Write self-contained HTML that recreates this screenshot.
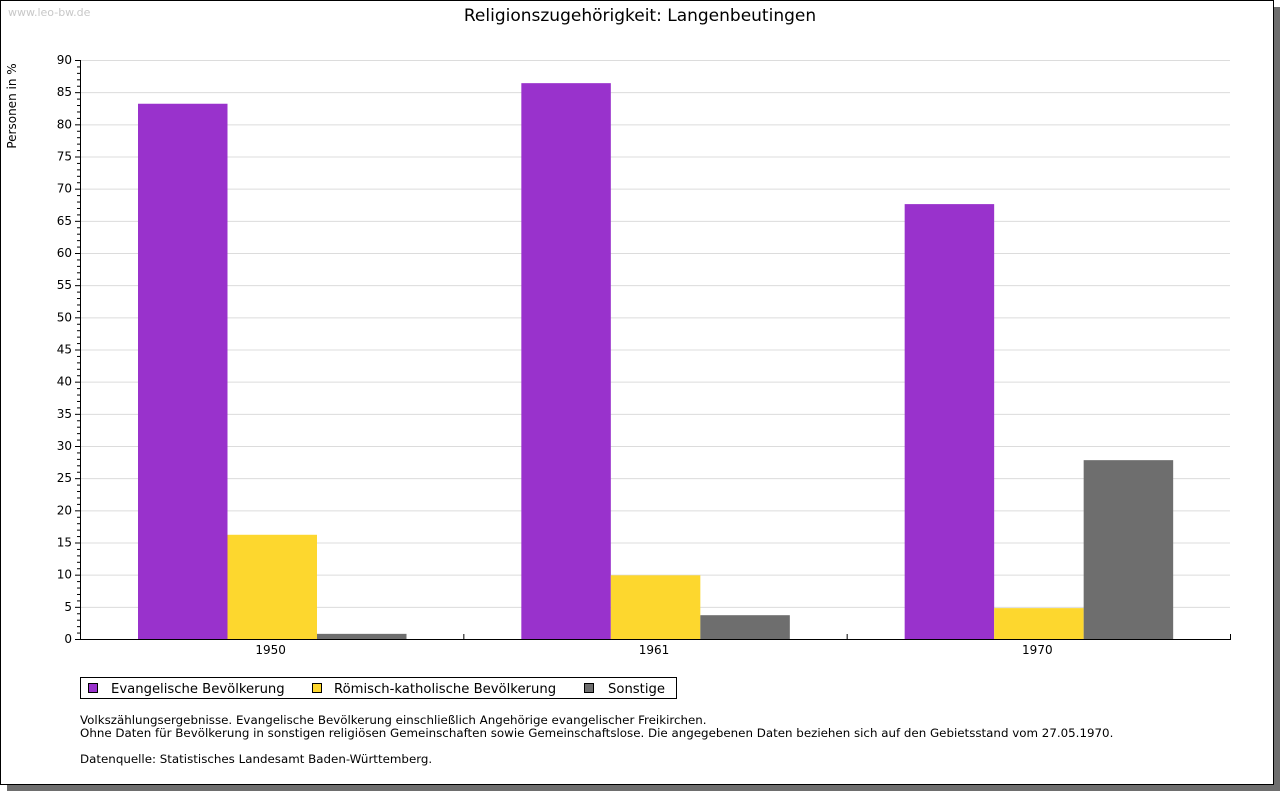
<!DOCTYPE html>
<html><head><meta charset="utf-8"><style>
body{margin:0;width:1280px;height:791px;background:#fff;overflow:hidden}
svg text{font-family:"DejaVu Sans","Liberation Sans",sans-serif}
</style></head><body>
<svg id="c" width="1280" height="791">
<rect x="7" y="7" width="1273" height="784" fill="#6e6e6e"/>
<rect x="0.5" y="0.5" width="1273" height="784" fill="#fff" stroke="#000"/>
<text x="8" y="16" font-size="11" fill="#c8c8c8">www.leo-bw.de</text>
<text x="640" y="21" font-size="17" text-anchor="middle">Religionszugehörigkeit: Langenbeutingen</text>
<text transform="translate(16,106) rotate(-90)" font-size="12" text-anchor="middle">Personen in %</text>
<g id="grid"></g><g id="bars"></g><g id="axes"></g>
<g>
<rect x="80.5" y="677.5" width="596" height="21" fill="#fff" stroke="#000"/>
<rect x="88.5" y="683.5" width="9" height="9" fill="#9932cc" stroke="#000"/>
<text x="111" y="693" font-size="13.2">Evangelische Bevölkerung</text>
<rect x="312.5" y="683.5" width="9" height="9" fill="#fdd72e" stroke="#000"/>
<text x="334" y="693" font-size="13.2">Römisch-katholische Bevölkerung</text>
<rect x="584.5" y="683.5" width="9" height="9" fill="#6e6e6e" stroke="#000"/>
<text x="608" y="693" font-size="13.2">Sonstige</text>
</g>
<g font-size="11.85">
<text x="80" y="724">Volkszählungsergebnisse. Evangelische Bevölkerung einschließlich Angehörige evangelischer Freikirchen.</text>
<text x="80" y="737">Ohne Daten für Bevölkerung in sonstigen religiösen Gemeinschaften sowie Gemeinschaftslose. Die angegebenen Daten beziehen sich auf den Gebietsstand vom 27.05.1970.</text>
<text x="80" y="763">Datenquelle: Statistisches Landesamt Baden-Württemberg.</text>
</g>
</svg>
<script>
const categories=["1950","1961","1970"];
const evangelisch=[83.2,86.4,67.6];
const katholisch=[16.2,9.9,4.8];
const sonstige=[0.8,3.7,27.8];
const yTicks=[0,5,10,15,20,25,30,35,40,45,50,55,60,65,70,75,80,85,90];
const NS="http://www.w3.org/2000/svg";
const X0=80,X1=1230,Y0=639,Y1=60,YMAX=90;
const y=v=>Y0-(v/YMAX)*(Y0-Y1);
const gw=(X1-X0)/categories.length;
function mk(p,tag,a){const e=document.createElementNS(NS,tag);for(const k in a)e.setAttribute(k,a[k]);p.appendChild(e);return e;}
const grid=document.getElementById('grid'),bars=document.getElementById('bars'),axes=document.getElementById('axes');
yTicks.forEach(t=>{
 if(t>0){const l=mk(grid,'line',{x1:X0,x2:X1,y1:y(t)+.5,y2:y(t)+.5,stroke:'#dcdcdc'});
 
 }
 const tk=mk(axes,'line',{x1:X0-5,x2:X0,y1:y(t)+.5,y2:y(t)+.5,stroke:'#000'});
 
 
 const tx=mk(axes,'text',{x:X0-8,y:y(t)+4,'font-size':12,'text-anchor':'end'});tx.textContent=t;
 
 
});
for(let v=0;v<=YMAX;v++){if(v%5){const m=mk(axes,'line',{x1:X0-3,x2:X0,y1:y(v)+.5,y2:y(v)+.5,stroke:'#000'});
 
 }}
const series=[[evangelisch,'#9932cc','evangelisch'],[katholisch,'#fdd72e','katholisch'],[sonstige,'#6e6e6e','sonstige']];
const bw=89.5,off=58;
categories.forEach((c,i)=>{
 series.forEach((s,j)=>{
  const v=s[0][i];const r=mk(bars,'rect',{x:X0+i*gw+off+j*bw,y:y(v),width:bw,height:Y0-y(v),fill:s[1]});
  
  
 });
 const tx=mk(axes,'text',{x:X0+i*gw+gw/2-1,y:Y0+15,'font-size':12,'text-anchor':'middle'});tx.textContent=c;
 
 
 const tk=mk(axes,'line',{x1:X0+(i+1)*gw+.5,x2:X0+(i+1)*gw+.5,y1:Y0-5,y2:Y0,stroke:'#000'});
 
 
});
const ya=mk(axes,'line',{x1:X0+.5,x2:X0+.5,y1:Y1,y2:Y0+1,stroke:'#000'});


const xa=mk(axes,'line',{x1:X0,x2:X1+1,y1:Y0+.5,y2:Y0+.5,stroke:'#000'});


</script>
</body></html>
